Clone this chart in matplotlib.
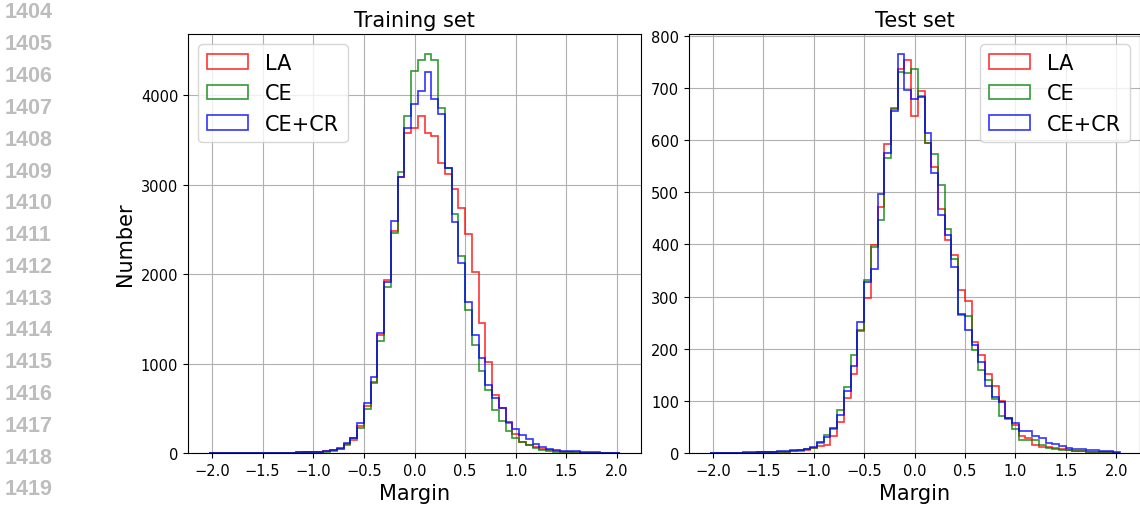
import numpy as np
import matplotlib
matplotlib.use("Agg")
import matplotlib.pyplot as plt

# ---- data: histogram bins (width 1/15, centred on multiples of 1/15) ----
bin_index = np.arange(-30, 31)
bin_width = 1.0 / 15.0
centers = bin_index * bin_width
edges = np.append(centers - bin_width / 2, centers[-1] + bin_width / 2)

series_names = ["LA", "CE", "CE+CR"]
series_colors = ["red", "green", "blue"]

train_la = [0, 0, 0, 0, 0, 1, 1, 1, 2, 2, 3, 4, 5, 6, 8, 10, 13, 17, 28, 45,
            101, 146, 306, 530, 792, 1315, 1931, 2480, 3089, 3582,
            3638,
            3772, 3582, 3544, 3238, 3120, 2958, 2742, 2454, 2025, 1453,
            1023, 653, 500, 333, 213, 120, 95, 65, 45, 30,
            22, 15, 10, 8, 5, 4, 3, 2, 1, 1]
train_ce = [0, 0, 0, 0, 0, 0, 1, 1, 1, 2, 2, 3, 4, 5, 7, 9, 12, 16, 27, 45,
            93, 164, 280, 493, 781, 1251, 1857, 2462, 3145, 3772,
            4273,
            4396, 4463, 4396, 3862, 3190, 2670, 2204, 1595, 1210, 922,
            709, 485, 362, 243, 165, 120, 86, 55, 35, 22,
            15, 10, 7, 5, 4, 3, 2, 1, 1, 0]
train_cr = [0, 0, 0, 0, 0, 1, 1, 1, 2, 2, 3, 4, 5, 7, 9, 11, 15, 20, 32, 56,
            112, 168, 336, 560, 855, 1341, 1913, 2592, 3089, 3638,
            3899,
            4049, 4261, 3955, 3787, 3190, 2585, 2125, 1688, 1315, 1061,
            762, 613, 500, 344, 269, 205, 155, 100, 65, 45,
            35, 27, 22, 18, 14, 10, 7, 5, 3, 2]

test_la = [0, 0, 0, 0, 0, 0, 0, 1, 1, 1, 1, 2, 3, 4, 6, 10, 14, 15, 33, 60,
           105, 152, 235, 297, 398, 471, 592, 662, 736, 754,
           646,
           694, 594, 548, 467, 409, 379, 313, 292, 212, 188,
           152, 128, 100, 68, 54, 32, 28, 15, 12, 12,
           10, 7, 6, 4, 3, 2, 2, 1, 1, 0]
test_ce = [0, 0, 0, 0, 0, 0, 0, 1, 1, 1, 1, 2, 3, 5, 7, 10, 19, 35, 46, 83,
           126, 188, 233, 332, 395, 446, 566, 659, 731, 729,
           736,
           684, 594, 574, 513, 429, 372, 265, 262, 198, 159,
           139, 104, 71, 65, 46, 24, 24, 24, 15, 10,
           8, 6, 5, 3, 3, 2, 1, 1, 1, 0]
test_cr = [0, 0, 0, 0, 0, 1, 1, 1, 1, 2, 3, 4, 5, 6, 8, 11, 22, 30, 47, 73,
           118, 166, 251, 328, 353, 496, 575, 655, 765, 695,
           679,
           682, 614, 536, 457, 418, 356, 267, 236, 207, 175,
           129, 107, 97, 68, 58, 43, 43, 33, 28, 20,
           18, 14, 10, 8, 7, 6, 5, 4, 3, 2]

panel_titles = ["Training set", "Test set"]
xticks = [-2.0, -1.5, -1.0, -0.5, 0.0, 0.5, 1.0, 1.5, 2.0]
train_yticks = [0, 1000, 2000, 3000, 4000]
test_yticks = [0, 100, 200, 300, 400, 500, 600, 700, 800]
line_numbers = list(range(1404, 1420))

# ---- figure ----
W, H = 1140, 506
fig = plt.figure(figsize=(W / 100, H / 100), dpi=100)

ax1 = fig.add_axes([188 / W, 52 / H, 453 / W, 419 / H])
ax2 = fig.add_axes([689 / W, 52 / H, 451 / W, 419 / H])

panels = [
    (ax1, [train_la, train_ce, train_cr], train_yticks, "upper left"),
    (ax2, [test_la, test_ce, test_cr], test_yticks, "upper right"),
]

for (ax, data, yt, loc), title in zip(panels, panel_titles):
    for vals, name, col in zip(data, series_names, series_colors):
        ax.hist(centers, bins=edges, weights=vals, histtype="step",
                color=col, alpha=0.8, linewidth=1.2, label=name)
    ax.set_xticks(xticks)
    ax.set_yticks(yt)
    ax.grid(True, color="#b0b0b0", linewidth=0.8)
    ax.set_axisbelow(True)
    ax.tick_params(labelsize=10.5)
    ax.set_xlabel("Margin", fontsize=15)
    ax.set_title(title, fontsize=15)
    ax.legend(loc=loc, fontsize=15, handlelength=2.0)

ax1.set_ylabel("Number", fontsize=15)

# ---- line numbers in the margin ----
for i, n in enumerate(line_numbers):
    ypix = 13 + 31.8 * i
    fig.text(5 / W, 1 - ypix / H, str(n), ha="left", va="center",
             fontsize=15.5, fontweight="bold", color="#bdbdbd",
             family="Liberation Sans")

fig.savefig("out.png", dpi=100)
